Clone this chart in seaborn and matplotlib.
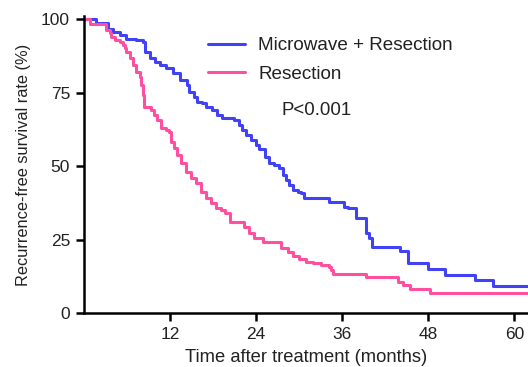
import matplotlib
matplotlib.use("Agg")
import matplotlib.pyplot as plt
from matplotlib.lines import Line2D
import seaborn as sns
import pandas as pd

# Kaplan-Meier curves (months, % recurrence-free)
combo_time = [0, 1.7, 3.4, 4.0, 5.0, 5.9, 7.3, 8.2, 8.5, 9.2, 9.9, 10.6, 11.5, 12.4, 13.4,
              14.3, 14.7, 15.4, 15.8, 16.5, 17.0, 17.9, 18.6, 19.3, 20.9, 21.6, 22.1, 22.6,
              23.3, 24.0, 24.4, 25.2, 25.8, 26.5, 27.2, 27.7, 28.2, 28.6, 29.1, 29.8, 30.3,
              30.7, 34.2, 36.3, 36.8, 37.9, 39.1, 39.3, 39.8, 40.2, 44.0, 45.2, 47.9, 50.3,
              54.5, 57.0, 62.0]
combo_surv = [100, 98.6, 96.5, 95.7, 94.6, 93.2, 92.9, 92.3, 88.9, 86.6, 85.5, 84.4, 83.2,
              81.5, 79.3, 77.6, 75.3, 73.6, 71.9, 71.3, 70.2, 69.0, 67.3, 66.2, 65.6, 63.9,
              62.2, 60.5, 58.8, 57.1, 55.7, 53.0, 50.9, 50.3, 49.2, 46.9, 45.2, 43.5, 41.8,
              41.3, 40.7, 39.0, 37.9, 36.2, 35.6, 32.5, 32.2, 27.1, 25.4, 22.6, 21.2, 16.9,
              15.0, 12.9, 11.2, 9.3, 9.3]

resec_time = [0, 0.9, 3.1, 3.6, 3.8, 4.3, 5.0, 5.4, 5.7, 5.9, 6.4, 6.8, 7.3, 7.8, 8.0, 8.2,
              8.4, 9.3, 9.8, 10.2, 10.7, 11.4, 11.9, 12.1, 12.6, 13.0, 13.5, 14.2, 14.9,
              15.6, 16.3, 17.0, 17.7, 18.4, 19.1, 19.6, 20.3, 22.3, 23.0, 23.7, 24.9, 27.5,
              28.4, 29.1, 30.0, 31.0, 31.9, 33.1, 34.2, 34.5, 34.7, 39.3, 43.8, 44.5, 45.4,
              48.2, 62.0]
resec_surv = [100, 98.2, 96.3, 95.1, 94.0, 92.9, 92.3, 91.2, 90.0, 88.9, 86.6, 84.4, 82.1,
              80.4, 77.6, 74.1, 70.0, 69.0, 67.3, 65.6, 62.8, 62.2, 61.7, 58.3, 56.0, 53.7,
              50.9, 48.1, 45.8, 44.1, 41.3, 39.3, 37.6, 35.6, 35.0, 33.9, 31.1, 29.4, 27.1,
              25.4, 24.3, 22.0, 20.9, 19.4, 18.3, 17.2, 16.9, 16.3, 15.7, 14.6, 13.4, 12.1,
              10.4, 9.5, 8.1, 6.7, 6.7]

labels = ["Microwave + Resection", "Resection"]
colors = ["#4141F5", "#FF4FA0"]
x_ticks = [12, 24, 36, 48, 60]
y_ticks = [0, 25, 50, 75, 100]

df = pd.concat([
    pd.DataFrame({"time": combo_time, "surv": combo_surv, "group": labels[0]}),
    pd.DataFrame({"time": resec_time, "surv": resec_surv, "group": labels[1]}),
])

sns.set_style("white")
plt.rcParams["font.family"] = ["Liberation Sans", "DejaVu Sans"]

fig = plt.figure(figsize=(5.28, 3.67), dpi=100)
ax = fig.add_axes([0.159, 0.147, 0.841, 0.809])

sns.lineplot(data=df, x="time", y="surv", hue="group", palette=colors,
             drawstyle="steps-post", linewidth=2.2, ax=ax, legend=False)

ax.set_xlim(0, 61.9)
ax.set_ylim(0, 101)
ax.set_xticks(x_ticks)
ax.set_yticks(y_ticks)
ax.tick_params(axis="both", direction="out", length=6, width=1.8, labelsize=12.5,
               color="black", labelcolor="#222222", left=True, bottom=True, pad=4)
for side in ["top", "right"]:
    ax.spines[side].set_visible(False)
for side in ["left", "bottom"]:
    ax.spines[side].set_color("black")
    ax.spines[side].set_linewidth(1.8)

ax.set_xlabel("Time after treatment (months)", fontsize=13.2, color="#222222", labelpad=5)
ax.set_ylabel("Recurrence-free survival rate (%)", fontsize=11.8, color="#222222", labelpad=7)

handles = [Line2D([], [], color=c, linewidth=2.2) for c in colors]
ax.legend(handles, labels, frameon=False, fontsize=13.6, handlelength=1.95,
          handletextpad=0.7, labelspacing=0.6, loc="upper left",
          bbox_to_anchor=(0.263, 0.955), borderaxespad=0, labelcolor="#222222")

ax.text(0.446, 0.683, "P<0.001", transform=ax.transAxes, fontsize=13.4,
        color="#222222", va="center")

fig.savefig("out.png", dpi=100)
